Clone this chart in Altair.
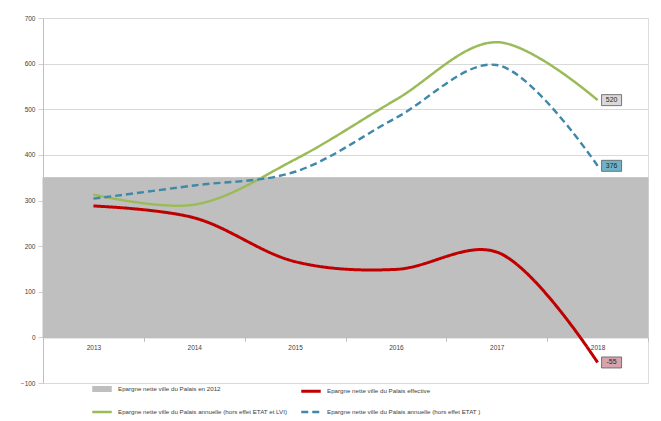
import altair as alt
import pandas as pd

years = ["2013", "2014", "2015", "2016", "2017", "2018"]
ref_2012 = [350, 350, 350, 350, 350, 350]
effective = [288, 262, 166, 149, 187, -55]
hors_etat_lvi = [313, 291, 390, 521, 647, 520]
hors_etat = [304, 333, 363, 481, 597, 376]

S0 = "Epargne nette ville du Palais en 2012"
S1 = "Epargne nette ville du Palais effective"
S2 = "Epargne nette ville du Palais annuelle (hors effet ETAT et LVI)"
S3 = "Epargne nette ville du Palais annuelle (hors effet ETAT )"
# legend fills column by column: order so rows read S0 S1 / S2 S3
series_names = [S0, S2, S1, S3]
series_colors = ["#bfbfbf", "#9bbb59", "#c00000", "#3f88a8"]
series_dash = [[1, 0], [1, 0], [1, 0], [7, 4]]
series_width = [6, 2.5, 3, 2.4]

label_fill = {S1: "#d9a3ad", S2: "#d9d9d9", S3: "#6fb3c8"}

bar_df = pd.DataFrame({"year": years, "value": ref_2012})
rows = []
for name, vals in [(S1, effective), (S2, hors_etat_lvi), (S3, hors_etat)]:
    for y, v in zip(years, vals):
        rows.append({"year": y, "value": v, "series": name})
line_df = pd.DataFrame(rows)
end_df = line_df[line_df["year"] == years[-1]].copy()
end_df["fill"] = end_df["series"].map(label_fill)
end_df["label"] = end_df["value"].astype(str)

W, H = 605, 365
x_scale = alt.Scale(domain=years, paddingInner=0, paddingOuter=0)
y_scale = alt.Scale(domain=[-100, 700], nice=False)

x_axis = alt.Axis(title=None, offset=-H * 100 / 800, tickBand="extent", tickSize=4,
                  labelPadding=3, labelFontSize=6.5, labelColor="#404040",
                  domainColor="#bfbfbf", tickColor="#bfbfbf", grid=False, labelAngle=0)
y_axis = alt.Axis(title=None, values=[-100, 0, 100, 200, 300, 400, 500, 600, 700],
                  tickSize=5, labelPadding=3, labelFontSize=6.5, labelColor="#404040",
                  domainColor="#bfbfbf", tickColor="#d0d0d0", gridColor="#d9d9d9")

legend = alt.Legend(title=None, orient="none", legendX=46, legendY=358, columns=2,
                    symbolType="stroke", symbolSize=380, labelFontSize=6.2,
                    labelColor="#404040", labelLimit=0, rowPadding=-3,
                    columnPadding=7, labelOffset=3)

bars = alt.Chart(bar_df).mark_bar(color="#bfbfbf", stroke="#bfbfbf", strokeWidth=1).encode(
    x=alt.X("year:N", scale=x_scale, axis=x_axis),
    y=alt.Y("value:Q", scale=y_scale, axis=y_axis),
    y2=alt.datum(0),
)

lines = alt.Chart(line_df).mark_line(interpolate="catmull-rom", strokeCap="butt").encode(
    x=alt.X("year:N", scale=x_scale),
    y=alt.Y("value:Q", scale=y_scale),
    color=alt.Color("series:N", scale=alt.Scale(domain=series_names, range=series_colors), legend=legend),
    strokeDash=alt.StrokeDash("series:N", scale=alt.Scale(domain=series_names, range=series_dash), legend=legend),
    strokeWidth=alt.StrokeWidth("series:N", scale=alt.Scale(type="ordinal", domain=series_names, range=series_width), legend=legend),
)

boxes = alt.Chart(end_df).mark_point(
    shape="M-1,-0.55H1V0.55H-1Z", size=400, filled=True, xOffset=14,
    stroke="#595959", strokeWidth=0.8, opacity=1
).encode(
    x=alt.X("year:N", scale=x_scale),
    y=alt.Y("value:Q", scale=y_scale),
    fill=alt.Fill("fill:N", scale=None, legend=None),
)

texts = alt.Chart(end_df).mark_text(fontSize=7, color="#262626", xOffset=14).encode(
    x=alt.X("year:N", scale=x_scale),
    y=alt.Y("value:Q", scale=y_scale),
    text="label:N",
)

chart = alt.layer(bars, lines, boxes, texts).properties(
    width=W, height=H,
    autosize=alt.AutoSizeParams(type="none"),
    padding={"left": 43, "top": 18, "right": 13, "bottom": 38},
    background="white",
).configure_view(stroke=None).configure(font="Liberation Sans")

chart.save("out.html", embed_options={"renderer": "svg", "actions": False})
